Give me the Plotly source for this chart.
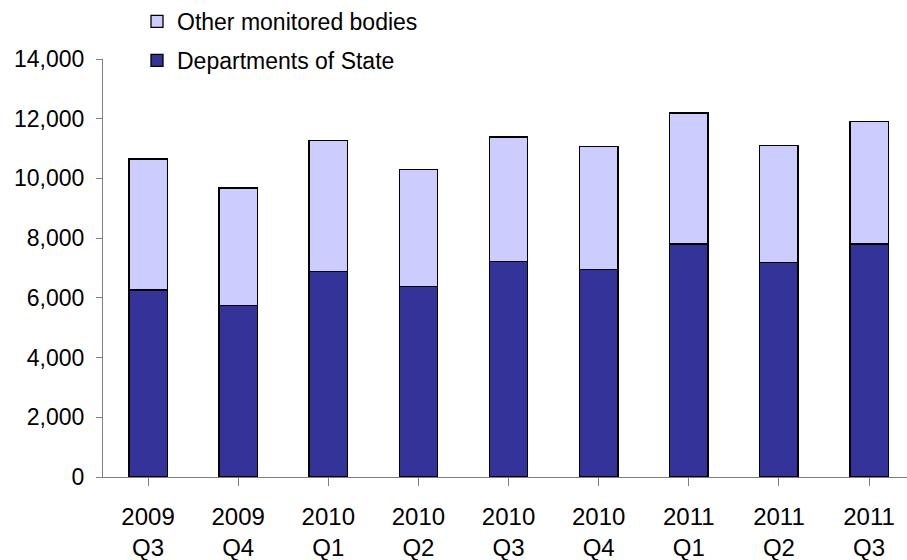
import plotly.graph_objects as go

# Quarterly totals, split by type of body
quarters = ["2009<br>Q3", "2009<br>Q4", "2010<br>Q1", "2010<br>Q2", "2010<br>Q3",
            "2010<br>Q4", "2011<br>Q1", "2011<br>Q2", "2011<br>Q3"]
departments = [6260, 5740, 6890, 6370, 7220, 6940, 7800, 7180, 7800]
other_bodies = [4390, 3940, 4380, 3940, 4170, 4120, 4390, 3920, 4100]

y_ticks = [0, 2000, 4000, 6000, 8000, 10000, 12000, 14000]

FONT = "Liberation Sans, Arial, sans-serif"
AXIS_GREY = "#808080"

fig = go.Figure()
fig.add_trace(go.Bar(
    x=list(range(len(quarters))), y=departments, name="Departments of State",
    marker=dict(color="#333399", line=dict(color="#000000", width=1.3)),
    legendgroup="dept", legendrank=2,
))
fig.add_trace(go.Bar(
    x=list(range(len(quarters))), y=other_bodies, name="Other monitored bodies",
    marker=dict(color="#CCCCFF", line=dict(color="#000000", width=1.3)),
    legendgroup="other", legendrank=1,
))

fig.update_layout(
    width=907, height=560,
    margin=dict(l=103, r=0, t=59, b=83),
    paper_bgcolor="white", plot_bgcolor="white",
    barmode="stack", bargap=0.574,
    font=dict(family=FONT, size=23, color="#000000"),
    showlegend=True,
    legend=dict(
        x=(137 - 103) / 804, y=1 + 59 / 418, xanchor="left", yanchor="top",
        traceorder="grouped", tracegroupgap=6,
        font=dict(size=23), bgcolor="rgba(0,0,0,0)",
    ),
)

fig.update_xaxes(
    range=[-0.5, 8.421],
    tickmode="array", tickvals=list(range(len(quarters))), ticktext=quarters,
    tickson="boundaries", ticks="outside", ticklen=8, tickcolor=AXIS_GREY,
    showline=True, linecolor=AXIS_GREY, linewidth=1,
    showgrid=False, zeroline=False,
    ticklabelstandoff=10,
    tickfont=dict(size=24),
)
fig.update_yaxes(
    range=[0, 14000],
    tickmode="array", tickvals=y_ticks, ticktext=[f"{v:,}" for v in y_ticks],
    ticks="outside", ticklen=6, tickcolor=AXIS_GREY,
    showline=True, linecolor=AXIS_GREY, linewidth=1,
    showgrid=False, zeroline=False,
    ticklabelstandoff=7,
    tickfont=dict(size=23),
)

fig.write_html("out.html")
